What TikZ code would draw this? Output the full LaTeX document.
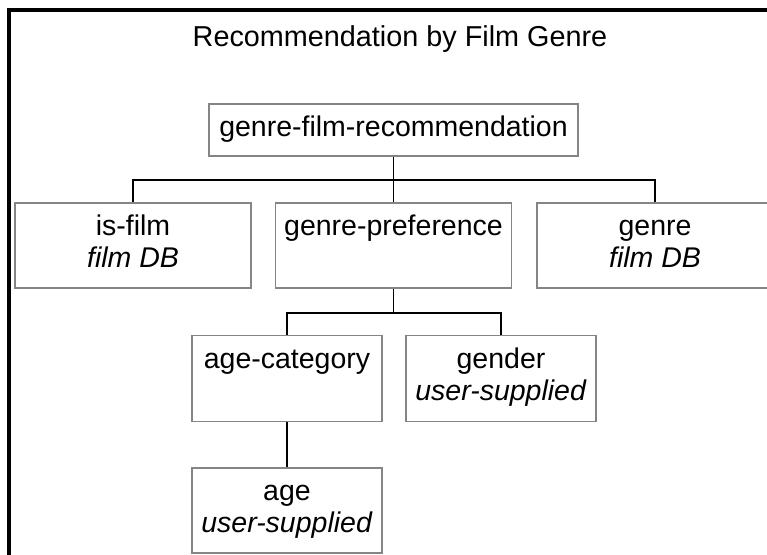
\documentclass[tikz,border=0pt]{standalone}
\usepackage{fontspec}
\setmainfont{Liberation Sans}
\usepackage{tikz}

\tikzset{
  box/.style={draw=black!48,line width=1.6pt,fill=white,align=center,inner sep=0pt,
              minimum width=236pt,minimum height=85pt},
  small box/.style={box,minimum width=190pt,minimum height=86pt},
  top box/.style={box,minimum width=369pt,minimum height=52pt},
  link/.style={draw=black,line width=1.5pt}
}

\begin{document}
\begin{tikzpicture}[x=1pt,y=-1pt,font=\fontsize{28.5}{32}\selectfont]
\useasboundingbox (0,0) rectangle (767,554);
\clip (0,0) rectangle (767,554);
\fill[white] (0,0) rectangle (767,554);
\draw[line width=3.5pt] (9,570) -- (9,10) -- (790,10);
\node (t) at (400,46) [anchor=base,font=\fontsize{28.8}{32}\selectfont] {Recommendation by Film Genre};
\node (1) at (393.5,130) [top box] {\strut genre-film-recommendation};
\node (2) at (133,245.5) [box] {\strut is-film\\\strut\textit{film DB}};
\node (3) at (393.5,245.5) [box] {\strut genre-preference\\\strut};
\node (4) at (655,245.5) [box] {\strut genre\\\strut\textit{film DB}};
\node (5) at (287,378.5) [small box] {\strut age-category\\\strut};
\node (6) at (501,378.5) [small box] {\strut gender\\\strut\textit{user-supplied}};
\node (7) at (287,510.5) [small box,minimum height=85pt] {\strut age\\\strut\textit{user-supplied}};
\coordinate (j1) at (393.5,180);
\coordinate (j2) at (393.5,313);
\draw[link] (1.south) -- (3.north);
\draw[link] (2.north) |- (j1) -| (4.north);
\draw[link] (3.south) -- (j2);
\draw[link] (5.north) |- (j2) -| (6.north);
\draw[link] (5.south) -- (7.north);
\end{tikzpicture}
\end{document}
